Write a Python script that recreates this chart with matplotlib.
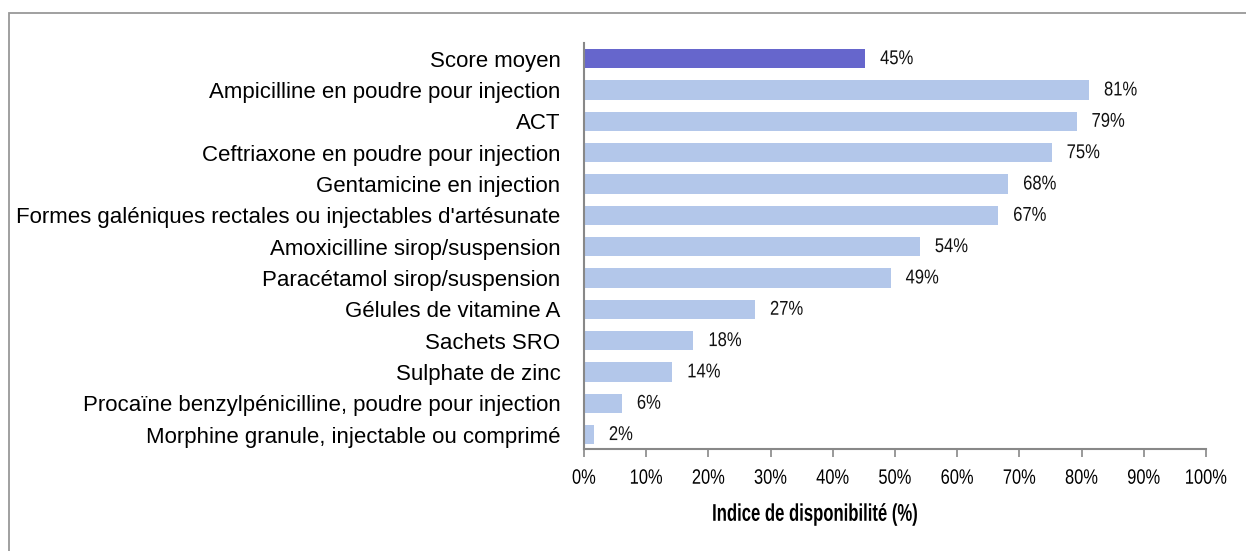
import matplotlib.pyplot as plt
from matplotlib.patches import Rectangle
from matplotlib.patheffects import AbstractPathEffect
from matplotlib.transforms import Affine2D

# Données
categories = [
    "Score moyen",
    "Ampicilline en poudre pour injection",
    "ACT",
    "Ceftriaxone en poudre pour injection",
    "Gentamicine en injection",
    "Formes galéniques rectales ou injectables d'artésunate",
    "Amoxicilline sirop/suspension",
    "Paracétamol sirop/suspension",
    "Gélules de vitamine A",
    "Sachets SRO",
    "Sulphate de zinc",
    "Procaïne benzylpénicilline, poudre pour injection",
    "Morphine granule, injectable ou comprimé",
]
valeurs = [45.2, 81.2, 79.2, 75.2, 68.2, 66.6, 54.0, 49.3, 27.5, 17.6, 14.2, 6.1, 1.6]
etiquettes = ["45%", "81%", "79%", "75%", "68%", "67%", "54%", "49%",
              "27%", "18%", "14%", "6%", "2%"]
ticks = [0, 10, 20, 30, 40, 50, 60, 70, 80, 90, 100]


class Etroit(AbstractPathEffect):
    # resserre le texte horizontalement (police type Arial Narrow)
    def __init__(self, sx, ancre='left'):
        super().__init__()
        self.sx = sx
        self.ancre = ancre

    def draw_path(self, renderer, gc, tpath, affine, rgbFace=None):
        ext = tpath.get_extents()
        if self.ancre == 'left':
            cx = 0
        elif self.ancre == 'right':
            cx = ext.x1
        else:
            cx = (ext.x0 + ext.x1) / 2
        t = Affine2D().translate(-cx, 0).scale(self.sx, 1).translate(cx, 0) + affine
        renderer.draw_path(gc, tpath, t, rgbFace)


plt.rcParams['font.family'] = ['Liberation Sans', 'DejaVu Sans']

fig = plt.figure(figsize=(12.46, 5.51), dpi=100)
ax = fig.add_axes([0.4687, 0.1846, 0.4992, 0.7374])

couleurs = ['#6666cc'] + ['#b3c7ea'] * (len(valeurs) - 1)
y = list(range(len(categories)))
ax.barh(y, valeurs, height=0.62, color=couleurs)

for yi, v, lab in zip(y, valeurs, etiquettes):
    t = ax.text(v + 2.4, yi, lab, va='center', ha='left', fontsize=14.4, color='#111111')
    t.set_path_effects([Etroit(0.83, 'left')])

ax.set_ylim(12.47, -0.5)
ax.set_xlim(0, 100)
ax.set_yticks(y)
ax.set_yticklabels(categories, fontsize=16)
ax.set_xticks(ticks)
ax.set_xticklabels([f"{t}%" for t in ticks], fontsize=15)
ax.tick_params(axis='y', length=0, pad=17)
ax.tick_params(axis='x', length=6, width=1.2, color='#888888', pad=8)

for lab in ax.get_xticklabels():
    lab.set_path_effects([Etroit(0.79, 'center')])

for s in ['top', 'right']:
    ax.spines[s].set_visible(False)
for s in ['left', 'bottom']:
    ax.spines[s].set_color('#888888')
    ax.spines[s].set_linewidth(1.5)

xl = ax.text(0.371, -0.160, "Indice de disponibilité (%)", transform=ax.transAxes,
             ha='center', va='center', fontsize=17.4, fontweight='bold')
xl.set_path_effects([Etroit(0.69, 'center')])

# cadre autour du graphique
cadre = Rectangle((9 / 1246, -0.1), 1.2, (551 - 13) / 551 + 0.1, transform=fig.transFigure,
                  fill=False, edgecolor='#999999', linewidth=1.3)
fig.patches.append(cadre)

fig.savefig('out.png', dpi=100)
